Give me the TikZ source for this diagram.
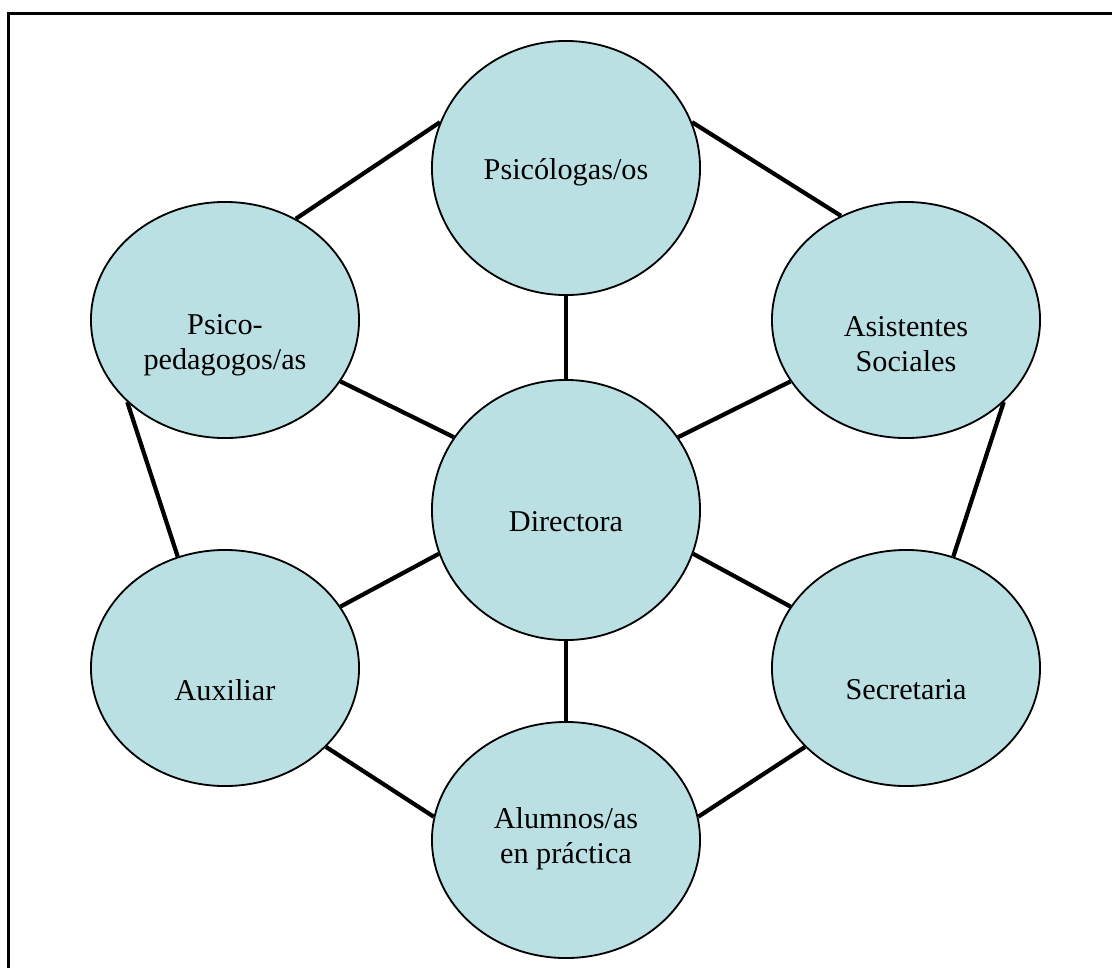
\documentclass[tikz,border=0pt]{standalone}
\usepackage{fontspec}
\setmainfont{Liberation Serif}
\usetikzlibrary{shapes.geometric}
\definecolor{celeste}{RGB}{187,224,227}
\tikzset{grupo/.style={ellipse, draw=black, line width=1.3pt, fill=celeste, minimum width=6.7cm, inner sep=0pt}}
\tikzset{texto/.style={align=center, inner sep=0pt, font=\fontsize{21.5}{25}\selectfont}}
\tikzset{enlace/.style={line width=3pt}}

\begin{document}
\begin{tikzpicture}[x=0.025cm,y=-0.025cm]
      \useasboundingbox (0,0) rectangle (1112,968);
      \coordinate (b1) at (8.5,968);
      \coordinate (b2) at (8.5,13.5);
      \coordinate (b3) at (1112,13.5);
      \draw[line width=1.6pt] (b1) -- (b2) -- (b3);
      % elipses
      \node[grupo, minimum height=6.35cm] (psi) at (566,168) {};
      \node[grupo, minimum height=5.9cm] (ped) at (225,320) {};
      \node[grupo, minimum height=5.9cm] (asi) at (906,320) {};
      \node[grupo, minimum height=6.5cm] (dir) at (566,510) {};
      \node[grupo, minimum height=5.9cm] (aux) at (225,668) {};
      \node[grupo, minimum height=5.9cm] (sec) at (906,668) {};
      \node[grupo, minimum height=5.9cm] (alu) at (566,840) {};
      % textos
      \node[texto] (psit) at (566,172) {Psicólogas/os};
      \node[texto] (pedt) at (225,345) {Psico-\\pedagogos/as};
      \node[texto] (asit) at (906,344) {Asistentes\\Sociales};
      \node[texto] (dirt) at (566,522) {Directora};
      \node[texto] (auxt) at (225,690) {Auxiliar};
      \node[texto] (sect) at (906,690) {Secretaria};
      \node[texto] (alut) at (566,839) {Alumnos/as\\en práctica};
      % enlaces
      \draw[enlace] (ped.55) -- (psi.160);
      \draw[enlace] (psi.20) -- (asi.122);
      \draw[enlace] (psi.-90) -- (dir.90);
      \draw[enlace] (ped.-28) -- (dir.147);
      \draw[enlace] (asi.208) -- (dir.33);
      \draw[enlace] (dir.199) -- (aux.28);
      \draw[enlace] (dir.-19) -- (sec.152);
      \draw[enlace] (dir.-90) -- (alu.90);
      \draw[enlace] (aux.-38) -- (alu.170);
      \draw[enlace] (sec.218) -- (alu.10);
      \draw[enlace] (ped.220) -- (aux.113);
      \draw[enlace] (asi.-40) -- (sec.67);
    \end{tikzpicture}
\end{document}
